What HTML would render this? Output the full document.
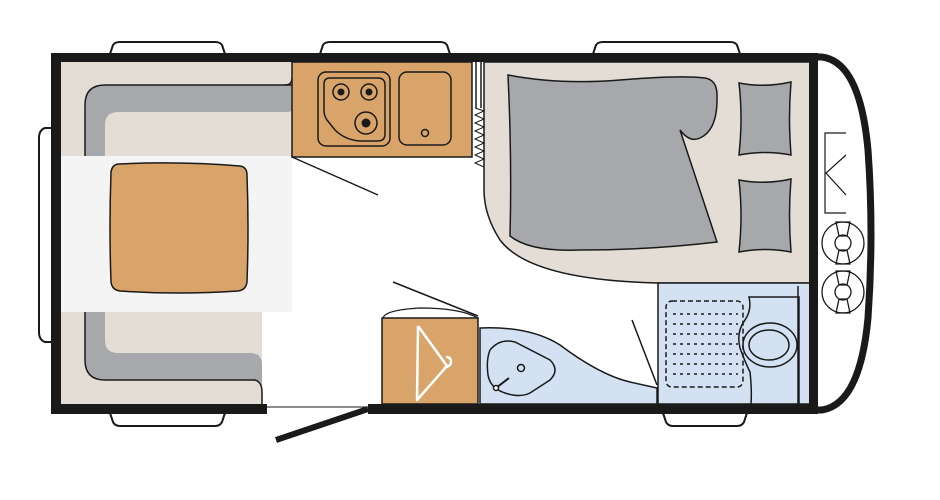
<!DOCTYPE html>
<html><head><meta charset="utf-8"><style>html,body{margin:0;padding:0;background:#fff}svg{display:block}</style></head>
<body>
<svg width="940" height="500" viewBox="0 0 940 500" xmlns="http://www.w3.org/2000/svg">
<g stroke="#1a1a1a" stroke-width="2" fill="#fff">
<path d="M110 54 L113 45 Q115 42 120 42 L215 42 Q220 42 222 45 L225 54Z"/>
<path d="M320 54 L323 45 Q325 42 330 42 L440 42 Q445 42 447 45 L450 54Z"/>
<path d="M593 54 L596 45 Q598 42 603 42 L730 42 Q735 42 737 45 L740 54Z"/>
<path d="M110 413 L113 422 Q115 426 120 426 L215 426 Q220 426 222 422 L225 413Z"/>
<path d="M663 413 L666 422 Q668 426 673 426 L737 426 Q742 426 744 422 L747 413Z"/>
<path d="M52 128 L45 128 Q39 130 39 138 L39 332 Q39 340 45 342 L52 342Z"/>
</g>
<path d="M61 62 L292 62 L292 157 L262 157 L262 404 L61 404Z" fill="#e4ddd6"/>
<path d="M484 62 L813 62 L813 283 L658 283 Q530 280 500 240 Q484 215 484 190Z" fill="#e4ddd6" stroke="#1a1a1a" stroke-width="1.5"/>
<path d="M292 85 L105 85 Q85 85 85 105 L85 156 L105 156 L105 125 Q105 112 118 112 L288 112 Q292 112 292 108Z" fill="#a6a8ab"/>
<path d="M292 85 L105 85 Q85 85 85 105 L85 156" fill="none" stroke="#1a1a1a" stroke-width="1.5"/>
<path d="M292 78 Q292 85 285 85" fill="none" stroke="#1a1a1a" stroke-width="1.5"/>
<path d="M85 312 L85 360 Q85 380 105 380 L255 380 Q262 380 262 388 L262 404 L262 365 Q262 353 250 353 L118 353 Q105 353 105 340 L105 312Z" fill="#a6a8ab"/>
<path d="M85 312 L85 360 Q85 380 105 380 L255 380 Q262 382 262 392" fill="none" stroke="#1a1a1a" stroke-width="1.5"/>
<line x1="262" y1="392" x2="262" y2="404" stroke="#1a1a1a" stroke-width="1.5"/>
<rect x="61" y="156" width="231" height="156" fill="#f4f4f4"/>
<path d="M118 164 Q180 161 240 166 Q247 167 247 175 Q249 228 247 282 Q246 290 238 291 Q180 295 120 291 Q112 290 111 282 Q109 228 111 172 Q112 165 118 164Z" fill="#d9a46a" stroke="#1a1a1a" stroke-width="1.5"/>
<rect x="292" y="62" width="180" height="95" fill="#d9a46a" stroke="#1a1a1a" stroke-width="1.5"/>
<rect x="318" y="72" width="72" height="74" rx="8" fill="none" stroke="#1a1a1a" stroke-width="1.5"/>
<path d="M330 78 L378 78 Q385 78 385 85 L385 134 Q385 141 378 141 L360 141 Q345 140 335 130 L327 120 Q324 116 324 110 L324 84 Q324 78 330 78Z" fill="none" stroke="#1a1a1a" stroke-width="1.5"/>
<circle cx="341" cy="92" r="8" fill="none" stroke="#1a1a1a" stroke-width="1.5"/><circle cx="341" cy="92" r="3.5" fill="#1a1a1a"/>
<circle cx="369" cy="92" r="8" fill="none" stroke="#1a1a1a" stroke-width="1.5"/><circle cx="369" cy="92" r="3.5" fill="#1a1a1a"/>
<circle cx="366" cy="123" r="11" fill="none" stroke="#1a1a1a" stroke-width="1.5"/><circle cx="366" cy="123" r="4.5" fill="#1a1a1a"/>
<rect x="399" y="72" width="52" height="73" rx="8" fill="none" stroke="#1a1a1a" stroke-width="1.5"/>
<circle cx="425" cy="133" r="3.5" fill="none" stroke="#1a1a1a" stroke-width="1.5"/>
<line x1="476" y1="62" x2="476" y2="108" stroke="#1a1a1a" stroke-width="1.5"/>
<line x1="481" y1="62" x2="481" y2="108" stroke="#1a1a1a" stroke-width="1.5"/>
<polyline points="475,108 484,111 475,115 484,119 475,123 484,127 475,131 484,135 475,139 484,143 475,147 484,151 475,155 484,159 475,163 484,167" fill="none" stroke="#1a1a1a" stroke-width="1"/>
<path d="M508 75 Q560 85 620 80 Q680 75 705 78 Q717 80 717 95 Q718 130 700 138 Q690 143 680 130 L717 242 Q650 250 580 250 Q530 252 510 236 Q512 160 508 75Z" fill="#a6a8ab" stroke="#1a1a1a" stroke-width="1.5"/>
<path d="M739 83 Q765 88 791 82 Q788 118 791 155 Q765 150 739 155 Q743 118 739 83Z" fill="#a6a8ab" stroke="#1a1a1a" stroke-width="1.5"/>
<path d="M739 180 Q765 185 791 179 Q788 215 791 252 Q765 247 739 252 Q743 215 739 180Z" fill="#a6a8ab" stroke="#1a1a1a" stroke-width="1.5"/>
<path d="M480 328 Q530 326 560 345 Q600 375 630 382 L657 388 L657 404 L480 404Z" fill="#d3e1f3" stroke="#1a1a1a" stroke-width="1.5"/>
<path d="M490 350 Q500 338 515 342 L550 360 Q560 370 550 380 L530 393 Q520 398 505 393 Q490 388 488 375 Q486 360 490 350Z" fill="none" stroke="#1a1a1a" stroke-width="1.5"/>
<circle cx="521" cy="368" r="3.5" fill="none" stroke="#1a1a1a" stroke-width="1.5"/>
<line x1="496" y1="388" x2="509" y2="378" stroke="#1a1a1a" stroke-width="2"/><circle cx="496" cy="388" r="2.5" fill="#fff" stroke="#1a1a1a" stroke-width="1.5"/>
<rect x="658" y="283" width="155" height="121" fill="#d3e1f3" stroke="#1a1a1a" stroke-width="1.5"/>
<rect x="666" y="301" width="77" height="86" rx="6" fill="none" stroke="#1a1a1a" stroke-width="1.5" stroke-dasharray="5,3"/>
<g stroke="#1a1a1a" stroke-width="1.5" stroke-dasharray="3,4">
<line x1="673" y1="314" x2="738" y2="314"/><line x1="673" y1="324" x2="738" y2="324"/><line x1="673" y1="334" x2="738" y2="334"/><line x1="673" y1="344" x2="738" y2="344"/><line x1="673" y1="354" x2="738" y2="354"/><line x1="673" y1="364" x2="738" y2="364"/><line x1="673" y1="374" x2="738" y2="374"/>
</g>
<path d="M799 404 L799 297 L749 297 Q752 310 745 320 Q736 332 740 348 Q745 362 750 372 Q752 390 751 404" fill="none" stroke="#1a1a1a" stroke-width="1.5"/>
<line x1="798" y1="286" x2="798" y2="404" stroke="#1a1a1a" stroke-width="1.5"/>
<ellipse cx="770" cy="345" rx="27" ry="22" fill="none" stroke="#1a1a1a" stroke-width="1.5"/>
<ellipse cx="769" cy="345" rx="20" ry="15" fill="none" stroke="#1a1a1a" stroke-width="1.5"/>
<path d="M383 318 Q385 310 420 308 Q460 308 478 318" fill="none" stroke="#1a1a1a" stroke-width="1.2"/>
<rect x="382" y="318" width="96" height="86" fill="#d9a46a" stroke="#1a1a1a" stroke-width="1.5"/>
<path d="M418 326 L417 400 L447 366 L418 326 M444 368 Q451 366 451 362 Q451 357 446 357" fill="none" stroke="#fff" stroke-width="2.5" stroke-linejoin="round"/>
<line x1="292" y1="157" x2="378" y2="195" stroke="#1a1a1a" stroke-width="1.5"/>
<line x1="393" y1="282" x2="478" y2="316" stroke="#1a1a1a" stroke-width="1.5"/>
<line x1="632" y1="320" x2="657" y2="385" stroke="#1a1a1a" stroke-width="1.5"/>
<g fill="#1a1a1a">
<rect x="51" y="53" width="763" height="9"/>
<rect x="51" y="53" width="10" height="361"/>
<rect x="51" y="404" width="216" height="10"/>
<rect x="368" y="404" width="446" height="10"/>
<rect x="809" y="53" width="9" height="361"/>
</g>
<path d="M814 57 L822 57 Q860 62 868 150 Q874 233 868 318 Q860 404 822 410 L814 410" fill="none" stroke="#1a1a1a" stroke-width="7"/>
<line x1="267" y1="407" x2="368" y2="407" stroke="#1a1a1a" stroke-width="1"/>
<line x1="276" y1="440" x2="368" y2="409" stroke="#1a1a1a" stroke-width="6"/>
<polyline points="846,133 825,133 825,213 846,213" fill="none" stroke="#1a1a1a" stroke-width="1.2"/>
<polyline points="846,155 826,173 846,195" fill="none" stroke="#1a1a1a" stroke-width="1.2"/>
<g fill="none" stroke="#1a1a1a" stroke-width="1.3">
<circle cx="843" cy="243" r="21"/><circle cx="843" cy="243" r="8"/>
<path d="M836 222 L850 222 L847 236 L839 236Z M836 264 L850 264 L847 250 L839 250Z"/>
<circle cx="843" cy="292" r="21"/><circle cx="843" cy="292" r="8"/>
<path d="M836 271 L850 271 L847 285 L839 285Z M836 313 L850 313 L847 299 L839 299Z"/>
</g>
</svg>
</body></html>
